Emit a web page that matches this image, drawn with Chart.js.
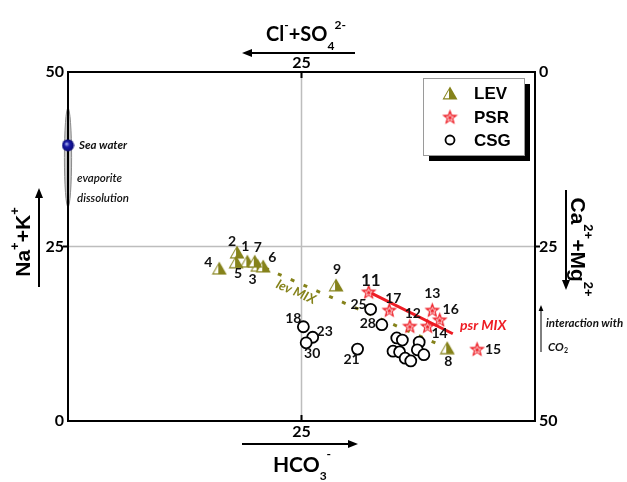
<!DOCTYPE html>
<html lang="en">
<head>
<meta charset="UTF-8">
<title>Diagrama LEV / PSR / CSG</title>
<script src="https://cdn.jsdelivr.net/npm/chart.js"></script>
<style>
  html, body { margin: 0; padding: 0; background: #fff; }
</style>
</head>
<body>
<canvas id="grafico" width="627" height="482"></canvas>
<script>
// LEV samples
const levIds = ['1', '2', '3', '4', '5', '6', '7', '8', '9'];
const levX = [19.2, 18.1, 20.3, 16.2, 18.0, 20.9, 20.0, 40.6, 28.7];
const levY = [22.9, 24.2, 22.3, 21.9, 22.8, 22.2, 22.9, 10.5, 19.5];

// PSR samples
const psrIds = ['11', '12', '13', '14', '15', '16', '17'];
const psrX = [32.2, 36.6, 39.0, 38.5, 43.8, 39.8, 34.4];
const psrY = [18.5, 13.6, 15.9, 13.6, 10.3, 14.5, 15.9];

// CSG samples (cluster points have no label)
const csgIds = ['18', '21', '23', '25', '28', '30', '', '', '', '', '', '', '', '', ''];
const csgX = [25.2, 31.0, 26.2, 32.4, 33.6, 25.5, 35.2, 35.8, 37.6, 34.8, 35.5, 36.1, 36.7, 37.4, 38.1];
const csgY = [13.5, 10.3, 12.0, 16.0, 13.8, 11.2, 11.9, 11.6, 11.3, 10.0, 9.9, 9.0, 8.6, 10.2, 9.5];

// mixing lines
const levMixX = [21.1, 39.8];
const levMixY = [21.9, 10.9];
const psrMixX = [32.2, 41.2];
const psrMixY = [18.5, 12.5];

// sea water + evaporite dissolution range (on the left axis)
const seaX = [0];
const seaY = [39.5];
const evapRange = [30.7, 44.8];

// tick labels
const tickValues = [0, 25, 50];
const leftTicks = ['0', '25', '50'];
const rightTicks = ['50', '25', '0'];
const topTicks = ['', '25', ''];
const bottomTicks = ['', '25', ''];

// label offsets (px) for the sample numbers
const labelOffsets = {
    L1: [-2, -15], L2: [-5, -11], L3: [-5, 14], L4: [-11, -6], L5: [2, 12],
    L6: [9, -9], L7: [3, -14], L8: [1, 14], L9: [1, -15],
    P11: [2, -11], P12: [3, -13], P13: [0, -17], P14: [12, 7], P15: [16, 0],
    P16: [11, -10], P17: [4, -12],
    C18: [-10, -8], C21: [-6, 10], C23: [12, -6], C25: [-12, -5], C28: [-14, -1], C30: [6, 11]
};

const olive = '#85821a';
const vermelho = '#ee1c24';

function pontos(xs, ys) {
    return xs.map((x, i) => ({ x: x, y: ys[i] }));
}

// custom marker images
function triangulo() {
    const c = document.createElement('canvas');
    c.width = 16; c.height = 14;
    const g = c.getContext('2d');
    g.beginPath(); g.moveTo(8, 0.5); g.lineTo(15.5, 13.5); g.lineTo(0.5, 13.5); g.closePath();
    g.fillStyle = olive; g.fill();
    g.beginPath(); g.moveTo(7, 4); g.lineTo(7, 12.3); g.lineTo(2.4, 12.3); g.closePath();
    g.fillStyle = '#fff'; g.fill();
    return c;
}

function estrelaPath(g, cx, cy, ro, ri) {
    g.beginPath();
    for (let i = 0; i < 10; i++) {
        const r = i % 2 === 0 ? ro : ri;
        const a = -Math.PI / 2 + i * Math.PI / 5;
        const px = cx + r * Math.cos(a), py = cy + r * Math.sin(a);
        if (i === 0) g.moveTo(px, py); else g.lineTo(px, py);
    }
    g.closePath();
}

function estrela() {
    const c = document.createElement('canvas');
    c.width = 17; c.height = 17;
    const g = c.getContext('2d');
    estrelaPath(g, 8.5, 9, 8.3, 3.5);
    g.fillStyle = vermelho; g.fill();
    estrelaPath(g, 8.5, 9.4, 3.8, 1.6);
    g.strokeStyle = '#fff'; g.lineWidth = 0.8; g.stroke();
    return c;
}

function bolaAzul() {
    const c = document.createElement('canvas');
    c.width = 13; c.height = 13;
    const g = c.getContext('2d');
    const grad = g.createRadialGradient(5, 5, 0.5, 6.5, 6.5, 6.5);
    grad.addColorStop(0, '#9ea6e8');
    grad.addColorStop(0.35, '#1a1aa8');
    grad.addColorStop(1, '#08086e');
    g.beginPath(); g.arc(6.5, 6.5, 6, 0, Math.PI * 2);
    g.fillStyle = grad; g.fill();
    return c;
}

function seta(ctx, x1, y1, x2, y2, w, head) {
    const ang = Math.atan2(y2 - y1, x2 - x1);
    ctx.save();
    ctx.strokeStyle = '#000'; ctx.fillStyle = '#000'; ctx.lineWidth = w;
    ctx.beginPath();
    ctx.moveTo(x1, y1);
    ctx.lineTo(x2 - Math.cos(ang) * head * 0.8, y2 - Math.sin(ang) * head * 0.8);
    ctx.stroke();
    ctx.translate(x2, y2); ctx.rotate(ang);
    ctx.beginPath(); ctx.moveTo(0, 0); ctx.lineTo(-head, -head * 0.4); ctx.lineTo(-head, head * 0.4); ctx.closePath();
    ctx.fill();
    ctx.restore();
}

// text with super/subscripts, centred on x, baseline y
function textoRico(ctx, partes, x, y, fonte, tamanho, menor, subir, descer) {
    let largura = 0;
    partes.forEach(p => {
        ctx.font = 'bold ' + (p[1] ? menor : tamanho) + 'px ' + fonte;
        largura += ctx.measureText(p[0]).width;
    });
    let cx = x - largura / 2;
    ctx.textAlign = 'left';
    ctx.textBaseline = 'alphabetic';
    partes.forEach(p => {
        ctx.font = 'bold ' + (p[1] ? menor : tamanho) + 'px ' + fonte;
        let dy = 0;
        if (p[1] === 'sup') dy = -subir;
        if (p[1] === 'sub') dy = descer;
        ctx.fillText(p[0], cx, y + dy);
        cx += ctx.measureText(p[0]).width;
    });
}

const diagrama = {
    id: 'diagrama',
    beforeDatasetsDraw(chart) {
        const ctx = chart.ctx;
        const a = chart.chartArea;
        const sx = chart.scales.x, sy = chart.scales.y;
        ctx.save();
        // 25 grid lines
        ctx.strokeStyle = '#bdbdbd'; ctx.lineWidth = 1.5;
        ctx.beginPath();
        ctx.moveTo(sx.getPixelForValue(25), a.top); ctx.lineTo(sx.getPixelForValue(25), a.bottom);
        ctx.moveTo(a.left, sy.getPixelForValue(25)); ctx.lineTo(a.right, sy.getPixelForValue(25));
        ctx.stroke();
        // evaporite ellipse
        const ey1 = sy.getPixelForValue(evapRange[1]), ey2 = sy.getPixelForValue(evapRange[0]);
        ctx.beginPath();
        ctx.ellipse(sx.getPixelForValue(0), (ey1 + ey2) / 2, 3.6, (ey2 - ey1) / 2, 0, 0, Math.PI * 2);
        ctx.fillStyle = '#c8c8c8'; ctx.fill();
        ctx.strokeStyle = '#8a8a8a'; ctx.lineWidth = 1; ctx.stroke();
        // frame
        ctx.strokeStyle = '#000'; ctx.lineWidth = 2;
        ctx.strokeRect(a.left, a.top, a.right - a.left, a.bottom - a.top);
        // small ticks at 25
        ctx.beginPath();
        const gx = sx.getPixelForValue(25), gy = sy.getPixelForValue(25);
        ctx.moveTo(gx, a.top); ctx.lineTo(gx, a.top + 6);
        ctx.moveTo(gx, a.bottom); ctx.lineTo(gx, a.bottom - 6);
        ctx.moveTo(a.left - 5, gy); ctx.lineTo(a.left, gy);
        ctx.moveTo(a.right, gy); ctx.lineTo(a.right + 5, gy);
        ctx.stroke();
        ctx.restore();
    },
    afterDraw(chart) {
        const ctx = chart.ctx;
        const a = chart.chartArea;
        const sx = chart.scales.x, sy = chart.scales.y;
        ctx.save();
        ctx.fillStyle = '#000';

        // tick labels
        ctx.font = 'bold 16px Lato';
        ctx.textBaseline = 'middle';
        tickValues.forEach((v, i) => {
            const py = sy.getPixelForValue(v);
            ctx.textAlign = 'right';
            ctx.fillText(leftTicks[i], a.left - 4, py);
            ctx.textAlign = 'left';
            ctx.fillText(rightTicks[i], a.right + 4, py);
            const px = sx.getPixelForValue(v);
            ctx.textAlign = 'center';
            if (topTicks[i]) ctx.fillText(topTicks[i], px, a.top - 9);
            if (bottomTicks[i]) ctx.fillText(bottomTicks[i], px, a.bottom + 11);
        });

        // axis titles and arrows
        textoRico(ctx, [['Cl'], ['-', 'sup'], ['+SO'], ['4', 'sub'], ['2-', 'sup']], 306, 41, 'Lato', 20, 12, 12, 9);
        seta(ctx, 355, 53, 242, 53, 2, 10);
        textoRico(ctx, [['HCO'], ['3', 'sub'], ['-', 'sup']], 302, 472, 'Lato', 21, 12, 14, 8);
        seta(ctx, 242, 444, 358, 444, 2, 10);

        ctx.save();
        ctx.translate(30, 242); ctx.rotate(-Math.PI / 2);
        textoRico(ctx, [['Na'], ['+', 'sup'], ['+K'], ['+', 'sup']], 0, 0, 'Liberation Sans', 21, 13, 11, 0);
        ctx.restore();
        seta(ctx, 39, 287, 39, 188, 2, 10);

        ctx.save();
        ctx.translate(571, 247); ctx.rotate(Math.PI / 2);
        textoRico(ctx, [['Ca'], ['2+', 'sup'], ['+Mg'], ['2+', 'sup']], 0, 0, 'Liberation Sans', 21, 13, 13, 0);
        ctx.restore();
        seta(ctx, 566, 190, 566, 290, 2, 10);

        // annotations
        ctx.textAlign = 'left'; ctx.textBaseline = 'middle';
        ctx.font = 'italic bold 11.5px Lato';
        ctx.fillStyle = '#111';
        ctx.fillText('Sea water', 79, 145);
        ctx.font = 'italic 600 11.5px Lato';
        ctx.fillText('evaporite', 77, 178);
        ctx.fillText('dissolution', 77, 198);
        ctx.font = 'italic bold 11.5px Lato';
        ctx.fillText('interaction with', 546, 323);
        ctx.fillText('CO', 548, 347);
        ctx.font = 'bold 7px Lato';
        ctx.fillText('2', 564, 351);
        seta(ctx, 541, 352, 541, 305, 1, 6);

        // mixing labels
        const l1 = sx.getPixelForValue(levMixX[0]), l1y = sy.getPixelForValue(levMixY[0]);
        const l2 = sx.getPixelForValue(levMixX[1]), l2y = sy.getPixelForValue(levMixY[1]);
        ctx.save();
        ctx.translate(296, 292);
        ctx.rotate(Math.atan2(l2y - l1y, l2 - l1));
        ctx.font = 'italic bold 13px Lato';
        ctx.fillStyle = olive; ctx.textAlign = 'center';
        ctx.fillText('lev MIX', 0, 0);
        ctx.restore();
        ctx.font = 'italic bold 14px Lato';
        ctx.fillStyle = vermelho; ctx.textAlign = 'left';
        ctx.fillText('psr MIX', 460, 325);

        // sample numbers
        ctx.fillStyle = '#111'; ctx.textAlign = 'center'; ctx.textBaseline = 'middle';
        const rotular = (ids, xs, ys, pre) => {
            ids.forEach((id, i) => {
                if (!id) return;
                const off = labelOffsets[pre + id] || [0, -12];
                ctx.font = id === '11' ? 'bold 17px Lato' : 'bold 14px Lato';
                ctx.fillText(id, sx.getPixelForValue(xs[i]) + off[0], sy.getPixelForValue(ys[i]) + off[1]);
            });
        };
        rotular(levIds, levX, levY, 'L');
        rotular(psrIds, psrX, psrY, 'P');
        rotular(csgIds, csgX, csgY, 'C');

        // legend box
        const bx = 423, by = 78, bw = 101, bh = 77;
        ctx.fillStyle = '#000';
        ctx.fillRect(bx + 6, by + 6, bw, bh);
        ctx.fillStyle = '#fff';
        ctx.fillRect(bx, by, bw, bh);
        ctx.strokeStyle = '#9a9a9a'; ctx.lineWidth = 1;
        ctx.strokeRect(bx + 0.5, by + 0.5, bw, bh);
        const itens = [['LEV', marcaLev, 93], ['PSR', marcaPsr, 117], ['CSG', null, 140]];
        itens.forEach(it => {
            if (it[1]) {
                ctx.drawImage(it[1], 450 - it[1].width / 2, it[2] - it[1].height / 2);
            } else {
                ctx.beginPath(); ctx.arc(450, it[2], 4.5, 0, Math.PI * 2);
                ctx.strokeStyle = '#000'; ctx.lineWidth = 1.8; ctx.stroke();
            }
            ctx.fillStyle = '#000'; ctx.textAlign = 'left'; ctx.textBaseline = 'middle';
            ctx.font = 'bold 17px Liberation Sans';
            ctx.fillText(it[0], 474, it[2] + 1);
        });
        ctx.restore();
    }
};

const marcaLev = triangulo();
const marcaPsr = estrela();

const grafico = new Chart(document.getElementById('grafico'), {
    type: 'scatter',
    data: {
        datasets: [
            {
                label: 'lev MIX', type: 'line', data: pontos(levMixX, levMixY),
                borderColor: olive, borderWidth: 3, borderDash: [4, 10], pointRadius: 0,
                fill: false, order: 5
            },
            {
                label: 'psr MIX', type: 'line', data: pontos(psrMixX, psrMixY),
                borderColor: vermelho, borderWidth: 3, pointRadius: 0, fill: false, order: 4
            },
            {
                label: 'CSG', data: pontos(csgX, csgY), pointStyle: 'circle', pointRadius: 5.5,
                backgroundColor: '#fff', borderColor: '#000', borderWidth: 1.8, order: 3
            },
            {
                label: 'LEV', data: pontos(levX, levY), pointStyle: marcaLev, order: 2
            },
            {
                label: 'PSR', data: pontos(psrX, psrY), pointStyle: marcaPsr, order: 1
            },
            {
                label: 'Sea water', data: pontos(seaX, seaY), pointStyle: bolaAzul(), clip: false, order: 0
            }
        ]
    },
    options: {
        responsive: false,
        animation: false,
        layout: { padding: { left: 68, top: 72, right: 92, bottom: 61 } },
        scales: {
            x: { type: 'linear', min: 0, max: 50, display: false },
            y: { type: 'linear', min: 0, max: 50, display: false }
        },
        plugins: {
            legend: { display: false },
            tooltip: { enabled: false }
        }
    },
    plugins: [diagrama]
});
</script>
</body>
</html>
